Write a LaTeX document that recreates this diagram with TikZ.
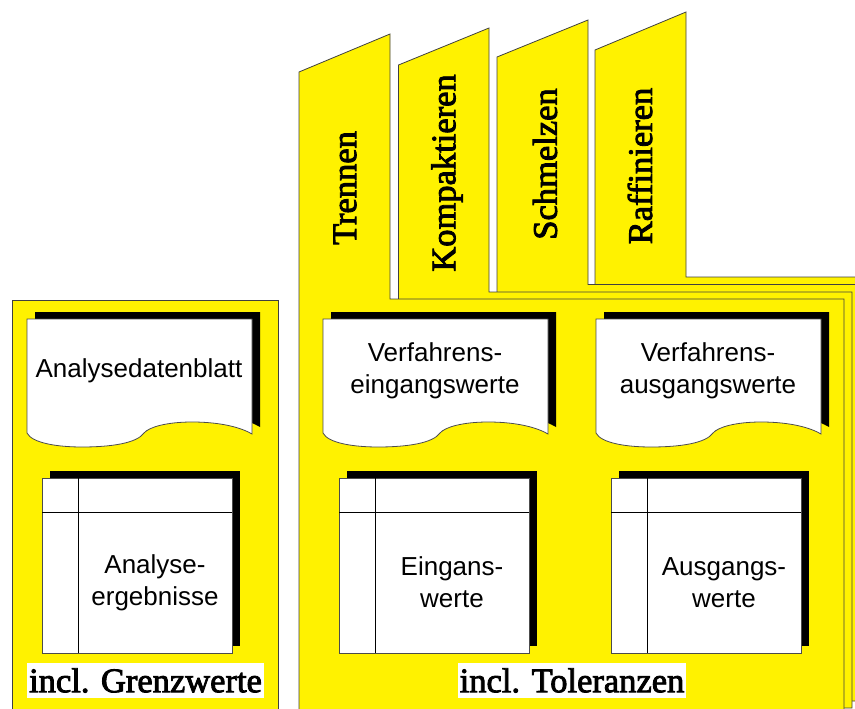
\documentclass[tikz,border=0pt]{standalone}
\usepackage{fontspec}
\setmainfont{Liberation Serif}[Ligatures=NoCommon]
\newfontfamily\tabserif{Liberation Serif}[Ligatures=NoCommon, FakeBold=2.5]
\newfontfamily\labelsans{Liberation Sans}
\newcommand\tabfont{\tabserif\fontsize{34.5}{40}\selectfont}
\newcommand\boxfont{\labelsans\fontsize{26}{32}\selectfont}

% sheet of paper with a wavy lower edge; local origin = top left corner
\newcommand\docoutline{(0,0) -- (225,0) -- (225,115)
  .. controls (215,109) and (195,103) .. (165,103)
  .. controls (140,103) and (122,108) .. (117,114)
  .. controls (110,124) and (85,128) .. (55,128)
  .. controls (30,128) and (5,124) .. (0,114) -- cycle}

% #1 = left, #2 = top, #3 = node name, #4 = text
\newcommand\paperdoc[4]{%
  \begin{scope}[shift={(#1,#2)}]
    \fill[shade] [shift={(8,-7)}] \docoutline;
    \draw[paper] \docoutline;
    \node[boxlabel] (#3) at (112,52) {#4};
  \end{scope}}

% table sheet with a header row and a key column
\newcommand\tablesheet[4]{%
  \begin{scope}[shift={(#1,#2)}]
    \fill[shade] (7.5,-7) rectangle (198,168);
    \draw[paper] (0,0) rectangle (190,175);
    \draw[rule] (36,0) -- (36,175);
    \draw[rule] (0,34) -- (190,34);
    \node[boxlabel] (#3) at (113,104.5) {#4};
  \end{scope}}

\tikzset{
  folder/.style={fill=yellow, draw=black!75, line width=0.8pt, line join=miter},
  shade/.style={fill=black},
  paper/.style={fill=white, draw=black!70, line width=0.8pt},
  rule/.style={draw=black, line width=0.8pt},
  tablabel/.style={font=\tabfont, rotate=90, inner sep=0pt},
  boxlabel/.style={font=\boxfont, align=center, inner sep=0pt},
  caption/.style={font=\tabfont, fill=white, inner xsep=2pt, inner ysep=0pt,
    minimum height=35pt}
}

\begin{document}
\begin{tikzpicture}[x=1pt, y=-1pt]
  \useasboundingbox (0,0) rectangle (855,709);
  \clip (0,0) rectangle (855,709);

  % stacked process folders, back to front
  \draw[folder] (595,50) -- (686,12) -- (686,277) -- (868,277) -- (868,693) -- (595,693) -- cycle;
  \draw[folder] (497,57) -- (588,20) -- (588,284.5) -- (860,284.5) -- (860,701) -- (497,701) -- cycle;
  \draw[folder] (398.5,65) -- (489,28) -- (489,292) -- (852,292) -- (852,708) -- (398.5,708) -- cycle;
  \draw[folder] (299,72) -- (390,34) -- (390,299) -- (844,299) -- (844,716) -- (299,716) -- cycle;

  \node[tablabel] (trennen) at (345,188) {Trennen};
  \node[tablabel] (kompakt) at (447,173) {Kompaktieren};
  \node[tablabel] (schmelz) at (545,164) {Schmelzen};
  \node[tablabel] (raffin) at (640,166) {Raffinieren};

  % analysis panel
  \draw[folder] (12,300) rectangle (278,720);

  \paperdoc{27}{319}{blatt}{Analysedatenblatt}
  \tablesheet{42}{478}{ergeb}{Analyse-\\ergebnisse}
  \node[caption] (grenz) at (145.5,680.5) {incl. Grenzwerte};

  % process panel contents
  \paperdoc{323}{319}{vein}{Verfahrens-\\eingangswerte}
  \paperdoc{596}{319}{vaus}{Verfahrens-\\ausgangswerte}
  \tablesheet{339}{478}{ein}{Eingans-\\werte}
  \tablesheet{611}{478}{aus}{Ausgangs-\\werte}
  \node[caption] (toler) at (572,680.5) {incl. Toleranzen};
\end{tikzpicture}
\end{document}
